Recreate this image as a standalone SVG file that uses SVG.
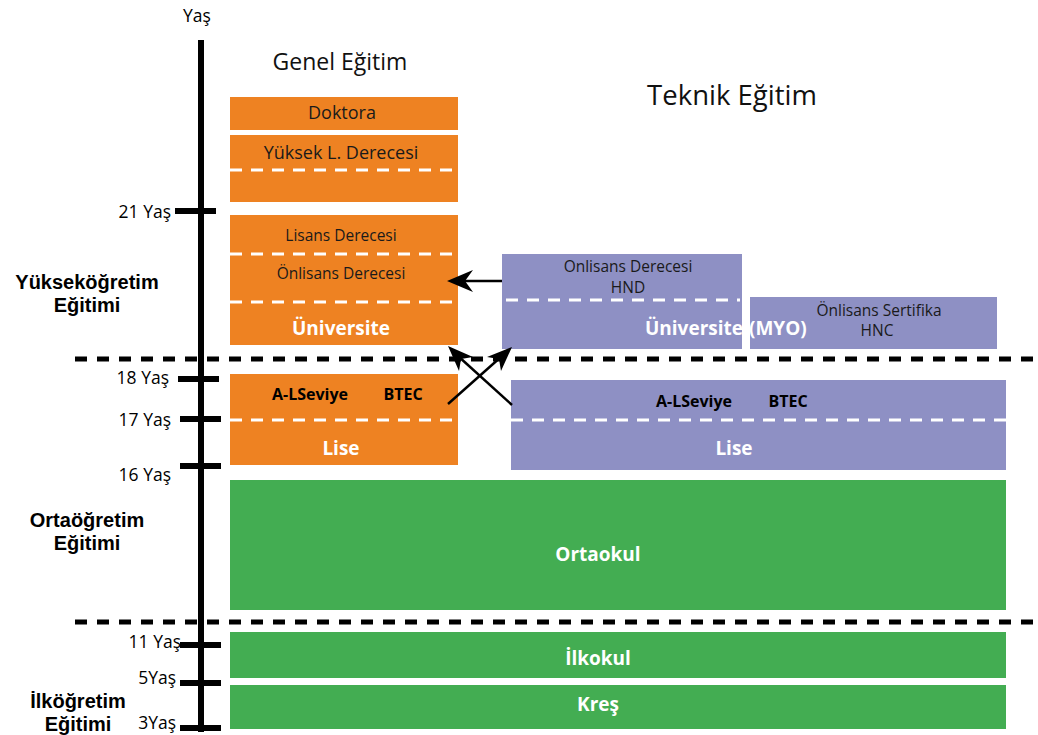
<svg xmlns="http://www.w3.org/2000/svg" width="1038" height="735" viewBox="0 0 1038 735">
<style>
text{font-family:"Open Sans","Liberation Sans",sans-serif;}
.or{fill:#EE8222;}
.pu{fill:#8E90C4;}
.gr{fill:#43AD52;}
.wd{stroke:#fff;stroke-width:3;stroke-dasharray:12 9;fill:none;}
.bd{stroke:#000;stroke-width:5;stroke-dasharray:12 10;fill:none;}
.tk{stroke:#000;stroke-width:6;fill:none;}
.c{text-anchor:middle;}
.r{text-anchor:end;}
.n{font-size:15.5px;fill:#1a1a1a;}
.m{font-size:18px;fill:#1a1a1a;}
.bw{font-size:19px;font-weight:bold;fill:#fff;}
.bb{font-size:16px;font-weight:bold;fill:#000;}
.lb{font-family:"Liberation Sans",Arial,sans-serif;font-size:20px;font-weight:bold;fill:#000;}
.age{font-size:17.5px;fill:#000;}
.ln{stroke:#000;stroke-width:2.5;fill:none;}
</style>
<rect width="1038" height="735" fill="#fff"/>
<g id="axis">
<line class="tk" x1="201" y1="40" x2="201" y2="732"/>
<line class="tk" x1="175" y1="211" x2="216" y2="211"/>
<line class="tk" x1="178" y1="379" x2="219" y2="379"/>
<line class="tk" x1="180" y1="419" x2="221" y2="419"/>
<line class="tk" x1="180" y1="466" x2="221" y2="466"/>
<line class="tk" x1="180" y1="645" x2="221" y2="645"/>
<line class="tk" x1="180" y1="683" x2="221" y2="683"/>
<line class="tk" x1="180" y1="728" x2="221" y2="728"/>
<text class="age c" x="197" y="22">Yaş</text>
<text class="age r" x="171" y="218">21 Yaş</text>
<text class="age r" x="169" y="384">18 Yaş</text>
<text class="age r" x="171" y="426">17 Yaş</text>
<text class="age r" x="171" y="481">16 Yaş</text>
<text class="age r" x="181" y="648">11 Yaş</text>
<text class="age r" x="176" y="684">5Yaş</text>
<text class="age r" x="176" y="729">3Yaş</text>
</g>
<g id="levels">
<text class="lb c" x="87" y="289">Yükseköğretim</text>
<text class="lb c" x="87" y="311.5">Eğitimi</text>
<text class="lb c" x="87" y="527">Ortaöğretim</text>
<text class="lb c" x="87" y="549.5">Eğitimi</text>
<text class="lb c" x="78" y="708">İlköğretim</text>
<text class="lb c" x="78" y="730.5">Eğitimi</text>
</g>
<g id="headers">
<text x="340" y="70" class="c" font-size="23" fill="#111">Genel Eğitim</text>
<text x="732" y="105" class="c" font-size="27.5" fill="#111">Teknik Eğitim</text>
</g>
<g id="doktora"><rect class="or" x="230" y="97" width="228" height="33"/><text class="m c" x="342" y="119">Doktora</text></g>
<g id="yuksek"><rect class="or" x="230" y="135" width="228" height="67"/><line class="wd" x1="230" y1="170" x2="458" y2="170"/><text class="m c" x="341" y="159">Yüksek L. Derecesi</text></g>
<g id="universite"><rect class="or" x="230" y="215" width="228" height="130"/>
<line class="wd" x1="230" y1="254" x2="458" y2="254"/><line class="wd" x1="230" y1="302" x2="458" y2="302"/>
<text class="n c" x="341" y="241">Lisans Derecesi</text><text class="n c" x="341" y="279">Önlisans Derecesi</text><text class="bw c" x="341" y="335">Üniversite</text></g>
<g id="lise-genel"><rect class="or" x="230" y="374" width="228" height="91"/><line class="wd" x1="230" y1="420" x2="458" y2="420"/>
<text class="bb c" x="310" y="400">A-LSeviye</text><text class="bb c" x="403" y="400">BTEC</text><text class="bw c" x="341" y="455">Lise</text></g>
<g id="myo"><rect class="pu" x="502" y="254" width="240" height="95"/><line class="wd" x1="506" y1="300" x2="740" y2="300"/>
<text class="n c" x="628" y="272">Onlisans Derecesi</text><text class="n c" x="628" y="293">HND</text></g>
<g id="hnc"><rect class="pu" x="750" y="297" width="247" height="52"/><text class="n c" x="879" y="316">Önlisans Sertifika</text><text class="n c" x="877" y="336">HNC</text></g>
<g id="myo-label"><text class="bw" text-anchor="end" x="743" y="335">Üniversite</text><text class="bw" x="749" y="335">(MYO)</text></g>
<g id="lise-teknik"><rect class="pu" x="511" y="380" width="495" height="90"/><line class="wd" x1="511" y1="420" x2="1006" y2="420"/>
<text class="bb c" x="694" y="407">A-LSeviye</text><text class="bb c" x="788" y="407">BTEC</text><text class="bw c" x="734" y="455">Lise</text></g>
<g id="ortaokul"><rect class="gr" x="230" y="480" width="776" height="130"/><text class="bw c" x="598" y="561">Ortaokul</text></g>
<g id="ilkokul"><rect class="gr" x="230" y="632" width="776" height="46"/><text class="bw c" x="598" y="665">İlkokul</text></g>
<g id="kres"><rect class="gr" x="230" y="685" width="776" height="44"/><text class="bw c" x="598" y="711">Kreş</text></g>
<g id="connectors">
<line class="bd" x1="75" y1="359" x2="1038" y2="359"/>
<line class="bd" x1="75" y1="622" x2="1038" y2="622"/>
<line class="ln" x1="502" y1="281" x2="462" y2="281"/>
<path d="M447,281 L473,270 L465,281 L473,292 Z" fill="#000"/>
<line class="ln" x1="448" y1="404" x2="502" y2="356"/>
<path d="M512,347 L501,371 L499,359 L487,357 Z" fill="#000"/>
<line class="ln" x1="512" y1="405" x2="458" y2="356"/>
<path d="M448,346 L473,357 L461,359 L459,371 Z" fill="#000"/>
</g>
</svg>
